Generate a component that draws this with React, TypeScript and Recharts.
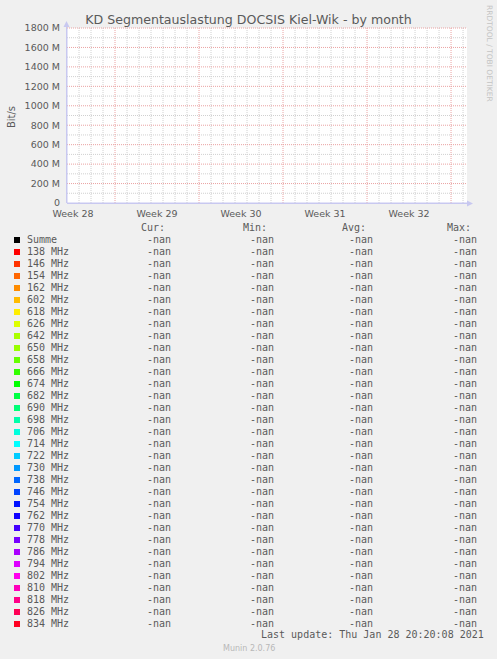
import { LineChart, Line, XAxis, YAxis, ReferenceLine, ReferenceArea } from "recharts";

// ---------------------------------------------------------------------------
// Data — munin "by month" graph, the RRD holds no samples (all -nan)
// ---------------------------------------------------------------------------
const TITLE = "KD Segmentauslastung DOCSIS Kiel-Wik - by month";
const Y_LABEL = "Bit/s";

// x axis in days from the left edge of the month window
const X_DOMAIN: [number, number] = [0, 33.33];
const WEEK_LABELS = ["Week 28", "Week 29", "Week 30", "Week 31", "Week 32"];
const WEEK_LABEL_DAYS = [0.5, 7.5, 14.5, 21.5, 28.5];
const WEEK_START_DAYS = [4, 11, 18, 25, 32];
const DAY_LINES = [1, 2, 3, 5, 6, 7, 8, 9, 10, 12, 13, 14, 15, 16, 17, 19, 20, 21, 22, 23, 24, 26, 27, 28, 29, 30, 31, 33];

// y axis in Mbit/s
const Y_DOMAIN: [number, number] = [0, 1800];
const Y_TICKS = [0, 200, 400, 600, 800, 1000, 1200, 1400, 1600, 1800];
const Y_MINOR = [100, 300, 500, 700, 900, 1100, 1300, 1500, 1700];

const CHANNELS = [
    "Summe", "138 MHz", "146 MHz", "154 MHz", "162 MHz", "602 MHz", "618 MHz", "626 MHz",
    "642 MHz", "650 MHz", "658 MHz", "666 MHz", "674 MHz", "682 MHz", "690 MHz", "698 MHz",
    "706 MHz", "714 MHz", "722 MHz", "730 MHz", "738 MHz", "746 MHz", "754 MHz", "762 MHz",
    "770 MHz", "778 MHz", "786 MHz", "794 MHz", "802 MHz", "810 MHz", "818 MHz", "826 MHz",
    "834 MHz",
];
const CHANNEL_COLORS = [
    "#000000", "#ff0000", "#ff3300", "#ff6600", "#ff8c00", "#ffbb00", "#ffee00", "#ddff00",
    "#aaff00", "#99ff00", "#66ff00", "#33ff00", "#00ff00", "#00ff44", "#00ff77", "#00ffaa",
    "#00ffdd", "#00ffff", "#00ccff", "#0099ff", "#0066ff", "#0044ff", "#0011ff", "#1100ff",
    "#4400ff", "#7700ff", "#aa00ff", "#dd00ff", "#ff00ee", "#ff00bb", "#ff0088", "#ff0055",
    "#ff0022",
];

// timestamps of the window and the (missing) samples of every channel
const SAMPLE_DAYS = [0, 33.33];
const SAMPLE_VALUES: (number | null)[] = [null, null];

// legend statistics per channel: every one is -nan
const CUR = [NaN, NaN, NaN, NaN, NaN, NaN, NaN, NaN, NaN, NaN, NaN, NaN, NaN, NaN, NaN, NaN, NaN, NaN, NaN, NaN, NaN, NaN, NaN, NaN, NaN, NaN, NaN, NaN, NaN, NaN, NaN, NaN, NaN];
const MIN = [NaN, NaN, NaN, NaN, NaN, NaN, NaN, NaN, NaN, NaN, NaN, NaN, NaN, NaN, NaN, NaN, NaN, NaN, NaN, NaN, NaN, NaN, NaN, NaN, NaN, NaN, NaN, NaN, NaN, NaN, NaN, NaN, NaN];
const AVG = [NaN, NaN, NaN, NaN, NaN, NaN, NaN, NaN, NaN, NaN, NaN, NaN, NaN, NaN, NaN, NaN, NaN, NaN, NaN, NaN, NaN, NaN, NaN, NaN, NaN, NaN, NaN, NaN, NaN, NaN, NaN, NaN, NaN];
const MAX = [NaN, NaN, NaN, NaN, NaN, NaN, NaN, NaN, NaN, NaN, NaN, NaN, NaN, NaN, NaN, NaN, NaN, NaN, NaN, NaN, NaN, NaN, NaN, NaN, NaN, NaN, NaN, NaN, NaN, NaN, NaN, NaN, NaN];

const LAST_UPDATE = "Last update: Thu Jan 28 20:20:08 2021";
const WATERMARK = "RRDTOOL / TOBI OETIKER";
const VERSION = "Munin 2.0.76";

// ---------------------------------------------------------------------------
// Styles
// ---------------------------------------------------------------------------
const SANS = "'DejaVu Sans', sans-serif";
const MONO = "'DejaVu Sans Mono', monospace";
const TEXT = "#5a5a5a";
const AXIS = "#c8c8f0";
const MINOR_GRID = "#d0d0d0";
const MAJOR_GRID = "#eaa2a2";

const fmt = (v: number) => (Number.isNaN(v) ? "-nan" : v.toFixed(2));

const chartData = SAMPLE_DAYS.map((day, j) => {
    const row: Record<string, number | null> = { day };
    CHANNELS.forEach((_, i) => {
        row[`c${i}`] = SAMPLE_VALUES[j];
    });
    return row;
});

function Legend() {
    const rowTop = (i: number) => 234 + i * 12;
    const cell = (left: number, top: number, text: string) => (
        <div style={{ position: "absolute", left, top, lineHeight: "12px", whiteSpace: "pre" }}>{text}</div>
    );
    return (
        <div style={{ position: "absolute", left: 0, top: 0, fontFamily: MONO, fontSize: 10, color: TEXT }}>
            {cell(141, 222, "Cur:")}
            {cell(243, 222, "Min:")}
            {cell(342, 222, "Avg:")}
            {cell(447, 222, "Max:")}
            {CHANNELS.map((name, i) => (
                <div key={name}>
                    <div
                        style={{
                            position: "absolute",
                            left: 14,
                            top: rowTop(i) + 3,
                            width: 6,
                            height: 6,
                            background: CHANNEL_COLORS[i],
                        }}
                    />
                    {cell(27, rowTop(i), name)}
                    {cell(147, rowTop(i), fmt(CUR[i]))}
                    {cell(250, rowTop(i), fmt(MIN[i]))}
                    {cell(349, rowTop(i), fmt(AVG[i]))}
                    {cell(453, rowTop(i), fmt(MAX[i]))}
                </div>
            ))}
            {cell(261, 629, LAST_UPDATE)}
        </div>
    );
}

export default function App() {
    return (
        <div
            style={{
                position: "absolute",
                left: 0,
                top: 0,
                width: 497,
                height: 659,
                background: "#f0f0f0",
                overflow: "hidden",
            }}
        >
            <LineChart
                width={497}
                height={220}
                data={chartData}
                margin={{ top: 28, right: 30, bottom: 0, left: 7 }}
                style={{ position: "absolute", left: 0, top: 0 }}
            >
                <XAxis
                    dataKey="day"
                    type="number"
                    domain={X_DOMAIN}
                    ticks={WEEK_LABEL_DAYS}
                    tickFormatter={(v: number) => WEEK_LABELS[WEEK_LABEL_DAYS.indexOf(v)] ?? ""}
                    interval={0}
                    height={17}
                    tickSize={0}
                    tickMargin={7}
                    axisLine={{ stroke: AXIS }}
                    tick={{ fill: TEXT, fontSize: 9.5, fontFamily: SANS }}
                    allowDataOverflow
                />
                <YAxis
                    type="number"
                    domain={Y_DOMAIN}
                    ticks={Y_TICKS}
                    tickFormatter={(v: number) => (v === 0 ? "0" : `${v} M`)}
                    interval={0}
                    width={60}
                    tickSize={0}
                    tickMargin={7}
                    axisLine={{ stroke: AXIS }}
                    tick={{ fill: TEXT, fontSize: 9.5, fontFamily: SANS }}
                    allowDataOverflow
                />
                <ReferenceArea x1={0} x2={33.33} y1={0} y2={1800} fill="#ffffff" fillOpacity={1} stroke="none" ifOverflow="extendDomain" />
                {Y_MINOR.map((v) => (
                    <ReferenceLine key={`ym${v}`} y={v} stroke={MINOR_GRID} strokeDasharray="1 1" ifOverflow="extendDomain" />
                ))}
                {DAY_LINES.map((d) => (
                    <ReferenceLine key={`xm${d}`} x={d} stroke={MINOR_GRID} strokeDasharray="1 1" ifOverflow="extendDomain" />
                ))}
                {Y_TICKS.filter((v) => v > 0).map((v) => (
                    <ReferenceLine key={`yM${v}`} y={v} stroke={MAJOR_GRID} strokeDasharray="1 1" ifOverflow="extendDomain" />
                ))}
                {WEEK_START_DAYS.map((d) => (
                    <ReferenceLine key={`xM${d}`} x={d} stroke={MAJOR_GRID} strokeDasharray="1 1" ifOverflow="extendDomain" />
                ))}
                {CHANNELS.map((name, i) => (
                    <Line
                        key={name}
                        dataKey={`c${i}`}
                        name={name}
                        stroke={CHANNEL_COLORS[i]}
                        dot={false}
                        isAnimationActive={false}
                        connectNulls={false}
                    />
                ))}
            </LineChart>

            {/* axis arrows, title and side texts */}
            <svg width={497} height={659} style={{ position: "absolute", left: 0, top: 0, pointerEvents: "none" }}>
                <line x1={67} y1={203.5} x2={468} y2={203.5} stroke={AXIS} />
                <line x1={66.5} y1={203} x2={66.5} y2={26} stroke={AXIS} />
                <polygon points="63.5,27 69.5,27 66.5,21" fill={AXIS} />
                <polygon points="467,200.5 467,206.5 473,203.5" fill={AXIS} />
                <text x={248.5} y={24} textAnchor="middle" fontFamily={SANS} fontSize={12.6} fill={TEXT}>
                    {TITLE}
                </text>
                <text
                    x={0}
                    y={0}
                    transform="translate(15,117) rotate(-90)"
                    textAnchor="middle"
                    fontFamily={SANS}
                    fontSize={10}
                    fill={TEXT}
                >
                    {Y_LABEL}
                </text>
                <text
                    x={0}
                    y={0}
                    transform="translate(487,5) rotate(90)"
                    textAnchor="start"
                    fontFamily={SANS}
                    fontSize={7.5}
                    fill="#c4c4c4"
                >
                    {WATERMARK}
                </text>
                <text x={223} y={651} fontFamily={SANS} fontSize={8} fill="#b8b8b8">
                    {VERSION}
                </text>
            </svg>

            <Legend />
        </div>
    );
}
